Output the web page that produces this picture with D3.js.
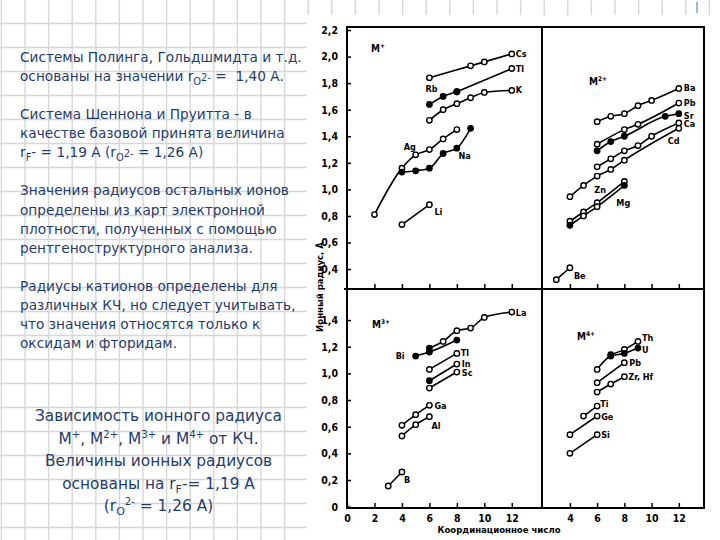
<!DOCTYPE html>
<html><head><meta charset="utf-8">
<script src="https://cdn.jsdelivr.net/npm/d3@7"></script>
<style>html,body{margin:0;padding:0;background:#fff;}svg{display:block}</style>
</head><body>
<svg id="c" width="720" height="540"></svg>
<script>
// ---------------- DATA ----------------
// M+ panel
const ionsM1 = [
  {ion:"Cs", cn:[6,9,10,12],        r:[1.84,1.93,1.96,2.02],             fill:[0,0,0,0]},
  {ion:"Rb", cn:[6,7,8],            r:[1.64,1.70,1.735],                 fill:[1,1,1]},
  {ion:"Tl", cn:[8,12],             r:[1.735,1.91],                      fill:[1,0]},
  {ion:"K",  cn:[6,7,8,9,10,12],    r:[1.52,1.60,1.645,1.69,1.73,1.745], fill:[0,0,0,0,0,0]},
  {ion:"Ag", cn:[2,4,5,6,7,8],      r:[0.81,1.16,1.26,1.30,1.38,1.45],   fill:[0,0,0,0,0,0]},
  {ion:"Na", cn:[4,5,6,7,8,9],      r:[1.13,1.14,1.16,1.27,1.31,1.46],   fill:[1,1,1,1,1,1]},
  {ion:"Li", cn:[4,6],              r:[0.735,0.885],                     fill:[0,0]}
];
// M2+ panel
const ionsM2 = [
  {ion:"Ba", cn:[6,7,8,9,10,12],    r:[1.51,1.55,1.57,1.63,1.67,1.76],   fill:[0,0,0,0,0,0]},
  {ion:"Pb", cn:[6,8,9,12],         r:[1.34,1.45,1.49,1.65],             fill:[0,0,0,0]},
  {ion:"Sr", cn:[6,7,8,11,12],      r:[1.29,1.36,1.40,1.55,1.57],        fill:[1,1,1,1,1]},
  {ion:"Ca", cn:[6,7,8,9,10,12],    r:[1.17,1.23,1.29,1.33,1.40,1.50],   fill:[0,0,0,0,0,0]},
  {ion:"Cd", cn:[4,5,6,7,8,12],     r:[0.945,1.03,1.10,1.15,1.22,1.46],  fill:[0,0,0,0,0,0]},
  {ion:"Zn", cn:[4,5,6,8],          r:[0.76,0.83,0.90,1.06],             fill:[0,0,0,0]},
  {ion:"Mg", cn:[4,5,6,8],          r:[0.73,0.80,0.87,1.03],             fill:[1,0,0,1]},
  {ion:"Be", cn:[3,4],              r:[0.32,0.41],                       fill:[0,0]}
];
// M3+ panel
const ionsM3 = [
  {ion:"La", cn:[6,7,8,9,10,12],    r:[1.19,1.24,1.32,1.34,1.42,1.46],   fill:[1,0,0,0,0,0]},
  {ion:"Bi", cn:[5,6,8],            r:[1.13,1.16,1.25],                  fill:[1,1,1]},
  {ion:"Tl", cn:[6,8],              r:[1.03,1.15],                       fill:[0,0]},
  {ion:"In", cn:[6,8],              r:[0.945,1.07],                      fill:[1,0]},
  {ion:"Sc", cn:[6,8],              r:[0.89,1.01],                       fill:[0,0]},
  {ion:"Ga", cn:[4,5,6],            r:[0.61,0.69,0.76],                  fill:[0,0,0]},
  {ion:"Al", cn:[4,5,6],            r:[0.53,0.615,0.675],                fill:[0,0,0]},
  {ion:"B",  cn:[3,4],              r:[0.155,0.26],                      fill:[0,0]}
];
// M4+ panel
const ionsM4 = [
  {ion:"Th",     cn:[7,8,9],        r:[1.14,1.18,1.24],                  fill:[1,0,0]},
  {ion:"U",      cn:[6,7,8,9],      r:[1.03,1.13,1.15,1.19],             fill:[0,1,1,1]},
  {ion:"Pb",     cn:[6,8],          r:[0.93,1.08],                       fill:[0,0]},
  {ion:"Zr, Hf", cn:[6,7,8],        r:[0.86,0.92,0.975],                 fill:[0,0,0]},
  {ion:"Ti",     cn:[5,6],          r:[0.68,0.755],                      fill:[0,0]},
  {ion:"Ge",     cn:[4,6],          r:[0.54,0.68],                       fill:[0,0]},
  {ion:"Si",     cn:[4,6],          r:[0.40,0.54],                       fill:[0,0]}
];
const yTicksTop = [0.4,0.6,0.8,1.0,1.2,1.4,1.6,1.8,2.0,2.2];
const yTicksBottom = [0,0.2,0.4,0.6,0.8,1.0,1.2,1.4];
const xTicksLeft = [0,2,4,6,8,10,12];
const xTicksRight = [4,6,8,10,12];
const panelTitles = [["M","+"],["M","2+"],["M","3+"],["M","4+"]];
const yTitle = "Ионный радиус, Å";
const xTitle = "Координационное число";

const noteLines = [
  [["Системы Полинга, Гольдшмидта и т.д."]],
  [["основаны на значении r"],["O","sub"],["2-","small"],[" =  1,40 A."]],
  null,
  [["Система Шеннона и Пруитта - в"]],
  [["качестве базовой принята величина"]],
  [["r"],["F","sub"],["- = 1,19 A (r"],["O","sub"],["2-","small"],[" = 1,26 A)"]],
  null,
  [["Значения радиусов остальных ионов"]],
  [["определены из карт электронной"]],
  [["плотности, полученных с помощью"]],
  [["рентгеноструктурного анализа."]],
  null,
  [["Радиусы катионов определены для"]],
  [["различных КЧ, но следует учитывать,"]],
  [["что значения относятся только к"]],
  [["оксидам и фторидам."]]
];
const captionLines = [
  [["Зависимость ионного радиуса"]],
  [["M"],["+","sup"],[", M"],["2+","sup"],[", M"],["3+","sup"],[" и M"],["4+","sup"],[" от КЧ."]],
  [["Величины ионных радиусов"]],
  [["основаны на r"],["F","sub"],["-= 1,19 A"]],
  [["(r"],["O","sub"],["2-","sup"],[" = 1,26 A)"]]
];

// ---------------- DRAWING ----------------
const svg = d3.select("#c");
const W = 720, H = 540;
const TXT = "#1f3c6c";
const SCAN_FONT = "'Liberation Sans Narrow','DejaVu Sans Condensed','Liberation Sans',sans-serif";

// graph-paper background
const grid = svg.append("g").attr("stroke","#d6d6d6").attr("stroke-width",1.4);
d3.range(1.4, W, 23.6).forEach(x => grid.append("line").attr("x1",x).attr("x2",x).attr("y1",0).attr("y2",H));
d3.range(23.5, H, 24).forEach(y => grid.append("line").attr("x1",0).attr("x2",W).attr("y1",y).attr("y2",y));

// white scanned-figure area
svg.append("rect").attr("x",307).attr("y",15).attr("width",W-307).attr("height",H-15).attr("fill","#fff");
svg.append("line").attr("x1",697).attr("x2",697).attr("y1",2).attr("y2",13)
  .attr("stroke","#9fb9da").attr("stroke-width",2);

// rich text helper
function addLine(g, segs, x, y, fs, anchor){
  const t = g.append("text").attr("x",x).attr("y",y).attr("font-size",fs)
    .attr("text-anchor",anchor).style("white-space","pre");
  let cur = 0;
  segs.forEach(([s,k]) => {
    let off = 0, size = 1;
    if (k === "sub") { off = 0.27*fs; size = 0.72; }
    else if (k === "sup") { off = -0.42*fs; size = 0.66; }
    else if (k === "small") { off = 0; size = 0.72; }
    t.append("tspan").attr("dy", off-cur).attr("font-size", fs*size).text(s);
    cur = off;
  });
  return t;
}

// left notes
const notes = svg.append("g").attr("fill",TXT).attr("font-family","'DejaVu Sans',Verdana,sans-serif");
{
  const probe = addLine(notes, noteLines[0], 0, -50, 16, "start");
  const w = probe.node().getComputedTextLength();
  probe.remove();
  const fs = 16*282/w;
  noteLines.forEach((segs,i) => {
    if (!segs) return;
    addLine(notes, segs, 20, 62 + 19.07*i, fs, "start");
  });
}
// caption
const cap = svg.append("g").attr("fill",TXT).attr("font-family","'DejaVu Sans',Verdana,sans-serif");
{
  const probe = addLine(cap, captionLines[0], 0, -50, 16, "start");
  const w = probe.node().getComputedTextLength();
  probe.remove();
  const fs = 16*247/w;
  const base = [421, 444, 466, 489, 511];
  captionLines.forEach((segs,i) => addLine(cap, segs, 158.5, base[i], fs, "middle"));
}

// panels
const X0 = 347, XM = 542, X1 = 704, Y0 = 27, YM = 289, Y1 = 508;
const xLeft  = d3.scaleLinear().domain([0,14.2]).range([X0,XM]);
const xRight = d3.scaleLinear().domain([1.95,13.85]).range([XM,X1]);
const yTop   = d3.scaleLinear().domain([0.25,2.2226]).range([YM,Y0]);
const yBot   = d3.scaleLinear().domain([-0.01,1.633]).range([Y1,YM]);

const panels = [
  {key:"M+",  data:ionsM1, x:xLeft,  y:yTop, title:panelTitles[0], tpos:[371,52]},
  {key:"M2+", data:ionsM2, x:xRight, y:yTop, title:panelTitles[1], tpos:[589,85]},
  {key:"M3+", data:ionsM3, x:xLeft,  y:yBot, title:panelTitles[2], tpos:[372,328]},
  {key:"M4+", data:ionsM4, x:xRight, y:yBot, title:panelTitles[3], tpos:[577,340]}
];

// label offsets [dx, dy, pointIndex(optional; default last)]
const labelPlace = {
  "M+|Cs":[4,3.5], "M+|Tl":[4,3.5], "M+|K":[4,3], "M+|Rb":[-4,-12,0], "M+|Ag":[-12,-5,2],
  "M+|Na":[-12,31], "M+|Li":[5,10],
  "M2+|Ba":[5,3], "M2+|Pb":[5,3], "M2+|Sr":[5,5], "M2+|Ca":[5,4.5], "M2+|Cd":[-11,16],
  "M2+|Zn":[-30,11.5], "M2+|Mg":[-8,20.5], "M2+|Be":[4,11],
  "M3+|La":[4,4], "M3+|Bi":[-20,2.5,0], "M3+|Tl":[4,3], "M3+|In":[5,3], "M3+|Sc":[5,4],
  "M3+|Ga":[5,3.5], "M3+|Al":[2,12], "M3+|B":[2,11],
  "M4+|Th":[4,0], "M4+|U":[4,5], "M4+|Pb":[5,3], "M4+|Zr, Hf":[4,3], "M4+|Ti":[3,0.5],
  "M4+|Ge":[4,3.5], "M4+|Si":[4,3.5]
};

const fmt = d => d === 0 ? "0" : d3.format(".1f")(d).replace(".", ",");
const fig = svg.append("g");

// axes (ticks)
function styleAxis(g){
  g.select(".domain").remove();
  g.selectAll(".tick line").attr("stroke","#000").attr("stroke-width",1.5);
  g.selectAll(".tick text").attr("font-family",SCAN_FONT).attr("font-weight","bold")
    .attr("font-size",10.5).attr("fill","#000");
}
fig.append("g").attr("transform",`translate(${X0},0)`)
  .call(d3.axisLeft(yTop).tickValues(yTicksTop).tickFormat(fmt).tickSizeInner(-4).tickSizeOuter(0).tickPadding(9))
  .call(styleAxis);
fig.append("g").attr("transform",`translate(${X0},0)`)
  .call(d3.axisLeft(yBot).tickValues(yTicksBottom).tickFormat(fmt).tickSizeInner(-4).tickSizeOuter(0).tickPadding(9))
  .call(styleAxis);
fig.append("g").attr("transform",`translate(0,${Y1})`)
  .call(d3.axisBottom(xLeft).tickValues(xTicksLeft).tickFormat(d3.format("d")).tickSizeInner(-5).tickSizeOuter(0).tickPadding(7))
  .call(styleAxis);
fig.append("g").attr("transform",`translate(0,${Y1})`)
  .call(d3.axisBottom(xRight).tickValues(xTicksRight).tickFormat(d3.format("d")).tickSizeInner(-5).tickSizeOuter(0).tickPadding(7))
  .call(styleAxis);
fig.append("g").attr("transform",`translate(0,${YM})`)
  .call(d3.axisBottom(xLeft).tickValues(xTicksLeft.slice(1)).tickFormat("").tickSizeInner(-5).tickSizeOuter(0))
  .call(styleAxis);
fig.append("g").attr("transform",`translate(0,${YM})`)
  .call(d3.axisBottom(xRight).tickValues(xTicksRight).tickFormat("").tickSizeInner(-5).tickSizeOuter(0))
  .call(styleAxis);

// frame
const frame = fig.append("g").attr("stroke","#000").attr("stroke-width",2).attr("fill","none");
frame.append("rect").attr("x",X0).attr("y",Y0).attr("width",X1-X0).attr("height",Y1-Y0);
frame.append("line").attr("x1",X0-3).attr("x2",X1).attr("y1",YM).attr("y2",YM);
frame.append("line").attr("x1",XM).attr("x2",XM).attr("y1",Y0).attr("y2",Y1);

// axis titles
fig.append("text").attr("transform","translate(323,287) rotate(-90)")
  .attr("text-anchor","middle").attr("font-family",SCAN_FONT).attr("font-weight","bold")
  .attr("font-size",9.5).attr("fill","#000").text(yTitle);
fig.append("text").attr("x",499).attr("y",533)
  .attr("text-anchor","middle").attr("font-family",SCAN_FONT).attr("font-weight","bold")
  .attr("font-size",9.5).attr("fill","#000").text(xTitle);

// series
panels.forEach(p => {
  const g = fig.append("g");
  const line = d3.line().x(d => p.x(d[0])).y(d => p.y(d[1])).curve(d3.curveMonotoneX);
  p.data.forEach(s => {
    const pts = s.cn.map((c,i) => [c, s.r[i], s.fill[i]]);
    g.append("path").attr("d", line(pts)).attr("fill","none")
      .attr("stroke","#000").attr("stroke-width",1.6);
  });
  p.data.forEach(s => {
    const pts = s.cn.map((c,i) => [c, s.r[i], s.fill[i]]);
    g.selectAll(null).data(pts).enter().append("circle")
      .attr("cx", d => p.x(d[0])).attr("cy", d => p.y(d[1])).attr("r", 2.7)
      .attr("fill", d => d[2] ? "#000" : "#fff").attr("stroke","#000").attr("stroke-width",1.4);
    const lp = labelPlace[p.key + "|" + s.ion] || [4,3];
    const idx = lp.length > 2 ? lp[2] : pts.length - 1;
    g.append("text").attr("x", p.x(pts[idx][0]) + lp[0]).attr("y", p.y(pts[idx][1]) + lp[1])
      .attr("font-family",SCAN_FONT).attr("font-weight","bold").attr("font-size",9)
      .attr("fill","#000").text(s.ion);
  });
  const t = g.append("text").attr("x",p.tpos[0]).attr("y",p.tpos[1])
    .attr("font-family",SCAN_FONT).attr("font-weight","bold").attr("font-size",10).attr("fill","#000");
  t.append("tspan").text(p.title[0]);
  t.append("tspan").attr("dy",-4).attr("font-size",6.5).text(p.title[1]);
});
</script>
</body></html>
